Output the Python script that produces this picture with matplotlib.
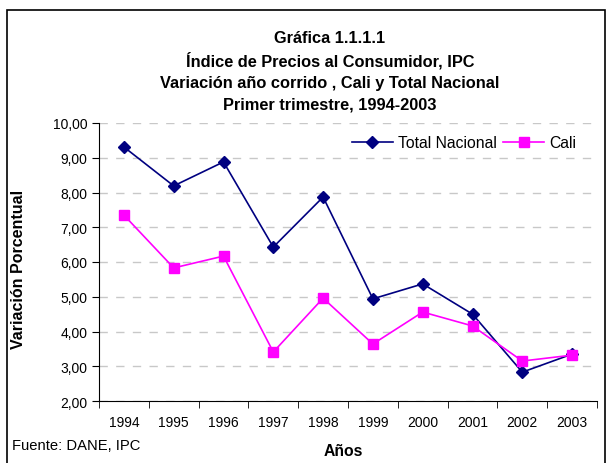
import numpy as np
import matplotlib
matplotlib.use("Agg")
import matplotlib.pyplot as plt
from matplotlib.ticker import FuncFormatter
from matplotlib.patches import Rectangle

plt.rcParams['font.family'] = ['Liberation Sans', 'DejaVu Sans']

years = ['1994', '1995', '1996', '1997', '1998', '1999', '2000', '2001', '2002', '2003']
total_nacional = [9.31, 8.19, 8.88, 6.43, 7.87, 4.94, 5.37, 4.50, 2.83, 3.35]
cali = [7.35, 5.83, 6.17, 3.41, 4.96, 3.64, 4.56, 4.16, 3.15, 3.32]

title_lines = ['Gráfica 1.1.1.1',
               'Índice de Precios al Consumidor, IPC',
               'Variación año corrido , Cali y Total Nacional',
               'Primer trimestre, 1994-2003']

W, H = 608, 464
fig = plt.figure(figsize=(W/100, H/100), dpi=100)
ax = fig.add_axes([99/W, 1-402/H, (597-99)/W, (402-124)/H])

# marco exterior
fig.patches.append(Rectangle((7/W, -0.01), (605-7)/W, 1.01-11/H,
                             transform=fig.transFigure, fill=False,
                             edgecolor='black', linewidth=1.2))

x = np.arange(len(years))
ax.plot(x, total_nacional, color='#000080', marker='D', markersize=6,
        linewidth=1.2, label='Total Nacional')
ax.plot(x, cali, color='#FF00FF', marker='s', markersize=7,
        linewidth=1.2, label='Cali')

ax.set_xlim(-0.5, len(years) - 0.5)
ax.set_ylim(2, 10)
ax.set_yticks(np.arange(2, 10.01, 1))
ax.yaxis.set_major_formatter(FuncFormatter(lambda v, p: f'{v:.2f}'.replace('.', ',')))
ax.set_xticks(x)
ax.set_xticklabels(years)
ax.set_xticks(np.arange(-0.5, len(years), 1), minor=True)
ax.tick_params(axis='x', which='major', length=0, pad=10, labelsize=10)
ax.tick_params(axis='x', which='minor', length=5, direction='out')
ax.tick_params(axis='y', length=5, direction='out', labelsize=10)

ax.grid(axis='y', color='#c8c8c8', linestyle=(0, (6, 6)), linewidth=1)
ax.set_axisbelow(True)
for s in ['top', 'right']:
    ax.spines[s].set_visible(False)

ax.set_ylabel('Variación Porcentual', fontsize=11.5, fontweight='bold', va='center')
ax.yaxis.set_label_coords((19 - 99) / (597 - 99), 0.478)
ax.set_xlabel('Años', fontsize=11.3, fontweight='bold')
ax.xaxis.set_label_coords((343 - 99) / (597 - 99), -(452 - 402) / (402 - 124))
ax.xaxis.label.set_va('center')

ax.legend(loc='center left', bbox_to_anchor=((352 - 99) / (597 - 99), (402 - 144) / (402 - 124)),
          ncol=2, frameon=False, fontsize=11.3, handlelength=2.6,
          columnspacing=0.45, handletextpad=0.3, borderaxespad=0, borderpad=0)

for i, line in enumerate(title_lines):
    fig.text(330/W, 1-(38.5 + 22.3*i)/H, line, ha='center', va='center',
             fontsize=11.8, fontweight='bold')
fig.text(12/W, 1-446/H, 'Fuente: DANE, IPC', ha='left', va='center', fontsize=10.6)

fig.savefig('out.png', dpi=100)
